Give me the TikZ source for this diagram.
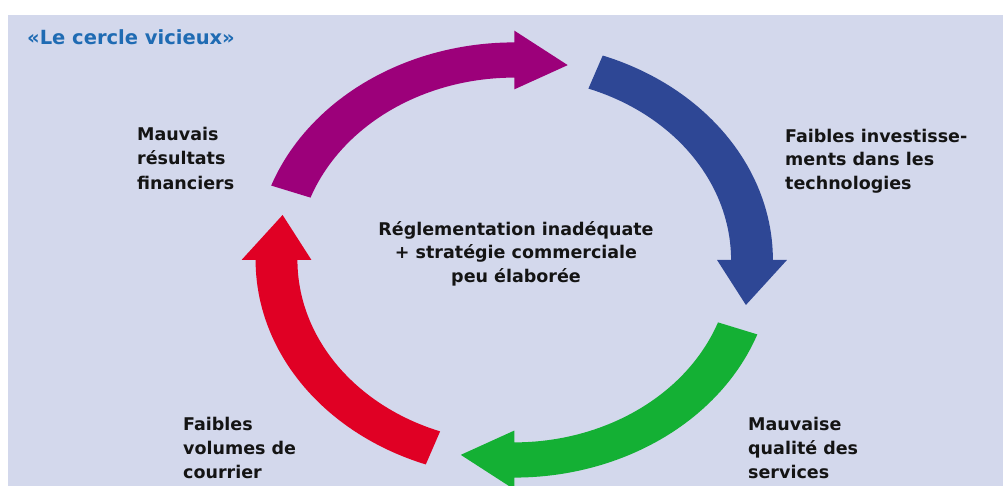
\documentclass[tikz,border=0pt]{standalone}
\usepackage{fontspec}
\newfontfamily\lblfont{DejaVu Sans}
\definecolor{bgcol}{HTML}{D3D8EC}
\definecolor{titlecol}{HTML}{1F6BB3}
\definecolor{txtcol}{HTML}{141414}
\definecolor{purplecol}{HTML}{9C007A}
\definecolor{bluecol}{HTML}{2E4795}
\definecolor{greencol}{HTML}{14B034}
\definecolor{redcol}{HTML}{E00024}
\newcommand{\cyclarrow}[2]{%
  \pgfmathsetmacro\baseang{#2-70}%
  \pgfmathsetmacro\tipang{#2-83}%
  \fill[#1] plot[domain=#2:\baseang, samples=50] ({1.088*cos(\x)},{1.088*sin(\x)})
    -- ({1.147*cos(\baseang)},{1.147*sin(\baseang)})
    -- ({cos(\tipang)},{sin(\tipang)})
    -- ({0.853*cos(\baseang)},{0.853*sin(\baseang)})
    -- plot[domain=\baseang:#2, samples=50] ({0.912*cos(\x)},{0.912*sin(\x)})
    -- cycle;}
\begin{document}
\begin{tikzpicture}[x=1pt,y=1pt,
  lbl/.style={inner sep=0pt, text=txtcol, align=left, anchor=north west,
    font=\lblfont\bfseries\fontsize{17.5}{24.5}\selectfont},
  ctr/.style={inner sep=0pt, text=txtcol, align=center, anchor=north,
    font=\lblfont\bfseries\fontsize{17.5}{23.5}\selectfont}]
\useasboundingbox (0,0) rectangle (1003,486);
\fill[bgcol] (8,0) rectangle (1003,471);
\node[inner sep=0pt, anchor=base west, text=titlecol,
  font=\lblfont\bfseries\fontsize{19.5}{22}\selectfont] (title) at (27,441) {«Le cercle vicieux»};
\begin{scope}[shift={(514.25pt,226pt)}, x=237.75pt, y=200pt]
  \cyclarrow{purplecol}{160}
  \cyclarrow{bluecol}{70}
  \cyclarrow{greencol}{-20}
  \cyclarrow{redcol}{-110}
\end{scope}
\node[lbl] (resultats) at (137,361) {\rule{0pt}{15pt}Mauvais\\résultats\\financiers};
\node[lbl, font=\lblfont\bfseries\fontsize{17.5}{23.5}\selectfont] (invest) at (785,359) {\rule{0pt}{15pt}Faibles investisse-\\ments dans les\\technologies};
\node[ctr] (centre) at (516,266) {\rule{0pt}{15pt}Réglementation inadéquate\\+ stratégie commerciale\\peu élaborée};
\node[lbl, font=\lblfont\bfseries\fontsize{17.5}{24}\selectfont] (volumes) at (183,71) {\rule{0pt}{15pt}Faibles\\volumes de\\courrier};
\node[lbl, font=\lblfont\bfseries\fontsize{17.5}{24}\selectfont] (qualite) at (748,71) {\rule{0pt}{15pt}Mauvaise\\qualité des\\services};
\end{tikzpicture}
\end{document}
